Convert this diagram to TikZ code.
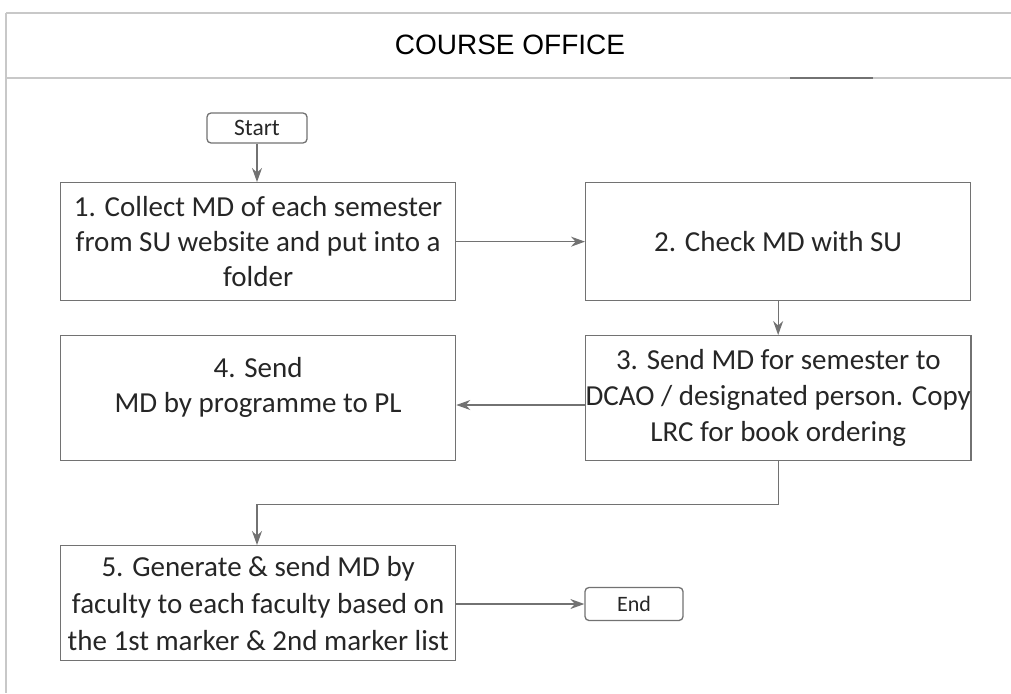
\documentclass[tikz,border=0pt]{standalone}
\usepackage{fontspec}
\setmainfont{Carlito}
\newfontfamily\titlefont{Liberation Sans}
\usetikzlibrary{arrows.meta}
\definecolor{linegray}{HTML}{727272}
\definecolor{framegray}{HTML}{C8C8C8}
\definecolor{textgray}{HTML}{262626}
\tikzset{
  stepbox/.style={draw=linegray, line width=1.3pt, rectangle, anchor=north west,
    inner sep=0pt, align=center, text=textgray,
    font=\fontsize{29}{35}\selectfont},
  terminal/.style={draw=linegray, line width=1.3pt, rectangle, rounded corners=4pt,
    inner sep=0pt, text=textgray, font=\fontsize{22}{26}\selectfont},
  flow/.style={draw=linegray, line width=1.3pt, -{Stealth[length=14pt,width=10pt]}},
}
\begin{document}
\begin{tikzpicture}[x=1pt,y=-1pt]
\useasboundingbox (0,0) rectangle (1011,693);
% page frame and heading band
\draw[framegray, line width=1.2pt] (6,13) -- (1011,13);
\draw[framegray, line width=1.2pt] (6,78) -- (1011,78);
\draw[framegray, line width=1.2pt] (6,13) -- (6,693);
\draw[linegray, line width=1.2pt] (790,78) -- (873,78);
\node[font=\titlefont\fontsize{28}{32}\selectfont, text=black] (title) at (510,45) {COURSE OFFICE};

% process steps
\node[terminal, minimum width=100pt, minimum height=30pt,
  font=\fontsize{23.5}{27}\selectfont] (start) at (257,128) {Start};
\node[stepbox, minimum width=395pt, minimum height=118pt] (s1) at (60,182)
  {1. Collect MD of each semester\\from SU website and put into a\\folder};
\node[stepbox, minimum width=385pt, minimum height=118pt] (s2) at (585,182)
  {2. Check MD with SU};
\node[stepbox, minimum width=385pt, minimum height=125pt,
  font=\fontsize{29}{36}\selectfont] (s3) at (585,335)
  {3. Send MD for semester to\\DCAO / designated person. Copy\\LRC for book ordering};
\node[stepbox, minimum width=395pt, minimum height=125pt] (s4) at (60,335)
  {4. Send\\MD by programme to PL\\[-20pt]\strut};
\node[stepbox, minimum width=395pt, minimum height=115pt,
  font=\fontsize{29}{37}\selectfont] (s5) at (60,545)
  {5. Generate \& send MD by\\faculty to each faculty based on\\the 1st marker \& 2nd marker list};
\node[terminal, minimum width=98pt, minimum height=33pt] (end) at (634,604) {End};

% connectors
\draw[flow] (start.south) -- (start.south |- s1.north);
\draw[flow] (s1.east) -- (s2.west);
\draw[flow] (s2.south) -- (s2.south |- s3.north);
\draw[flow] (s3.west |- 0,405) -- (s4.east |- 0,405);
\draw[flow] (s3.south) -- ++(0,43) -| (start.south |- s5.north);
\draw[flow] (s5.east |- end.west) -- (end.west);
\end{tikzpicture}
\end{document}
